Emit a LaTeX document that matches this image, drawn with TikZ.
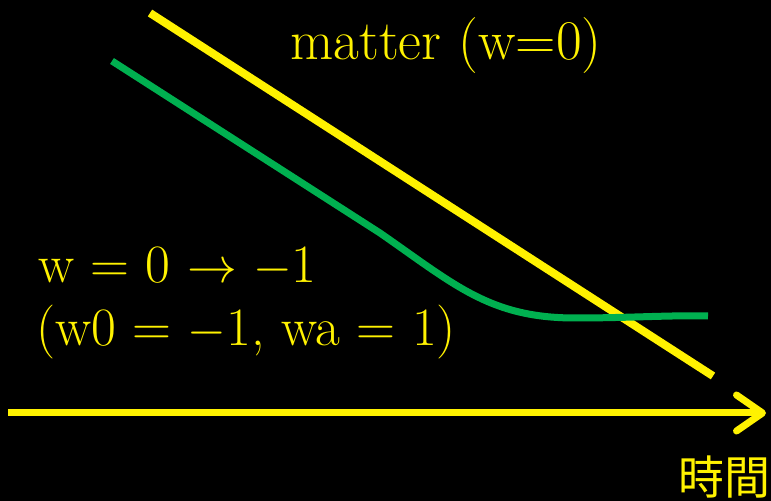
\documentclass[tikz,border=0pt]{standalone}
\usepackage{fontspec}
\newfontfamily\cjk{Noto Sans CJK TC}
\usetikzlibrary{arrows.meta}

\definecolor{wgreen}{RGB}{0,176,80}

\begin{document}
\begin{tikzpicture}[x=0.5pt,y=-0.5pt,
	lbl/.style={text=yellow,inner sep=0pt,font=\fontsize{27}{32}\selectfont},
	axis/.style={yellow,line width=3.5pt,-{Straight Barb[length=13pt,width=18pt,round]}}]
	\fill[black] (0,0) rectangle (771,501);
	\useasboundingbox (0,0) rectangle (771,501);
	% matter
	\coordinate (m0) at (150,13);
	\coordinate (m1) at (713,376);
	\draw[yellow,line width=4pt] (m0) -- (m1);
	% w running from 0 to -1
	\coordinate (g0) at (112,61);
	\coordinate (g1) at (380,233);
	\coordinate (g2) at (575,318);
	\coordinate (g3) at (708,316);
	\draw[wgreen,line width=3.5pt] (g0) -- (g1)
		.. controls (455,285) and (490,318) .. (g2)
		.. controls (630,318) and (670,315) .. (g3);
	% time axis
	\coordinate (t0) at (8,413);
	\coordinate (t1) at (766,413);
	\draw[axis] (t0) -- (t1);
	\node[lbl,anchor=base west,font=\fontsize{28}{32}\selectfont] (matter) at (290,60) {matter (w=0)};
	\node[lbl,anchor=base west] (wline) at (38,283) {w = 0 $\rightarrow$ $-$1};
	\node[lbl,anchor=base west] (wparam) at (36,346) {(w0 = $-$1, wa = 1)};
	\node[text=yellow,inner sep=0pt,font=\cjk\fontsize{23}{28}\selectfont] (time) at (724,477) {時間};
\end{tikzpicture}
\end{document}
